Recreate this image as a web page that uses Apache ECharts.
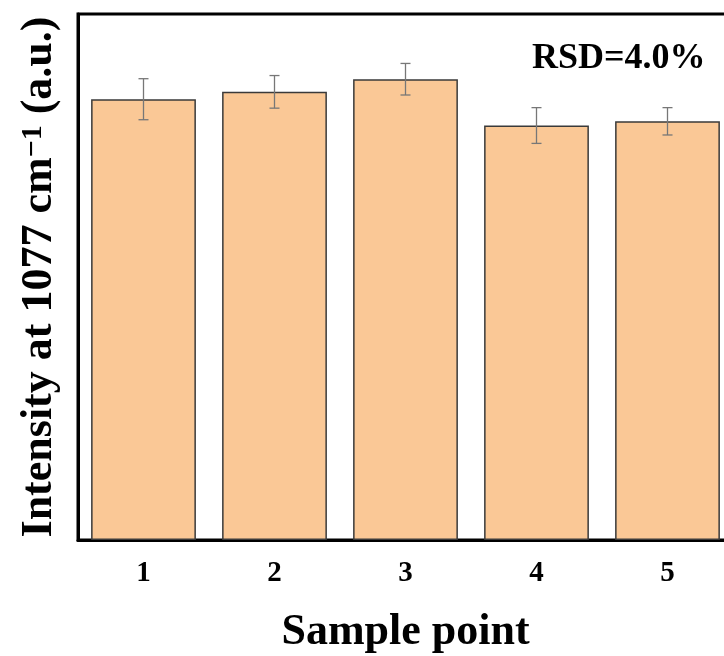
<!DOCTYPE html>
<html>
<head>
<meta charset="utf-8">
<script src="https://cdn.jsdelivr.net/npm/echarts@6/dist/echarts.min.js"></script>
<style>
  html, body { margin: 0; padding: 0; background: #fff; }
  #main { width: 724px; height: 656px; }
</style>
</head>
<body>
<div id="main"></div>
<script>
// sample points
var categories = ['1', '2', '3', '4', '5'];
var intensity = [83.8, 85.2, 87.6, 78.8, 79.6];
// error half widths (a.u.)
var errors = [3.9, 3.1, 3.0, 3.4, 2.6];

var serif = '"Liberation Serif", "Times New Roman", serif';

// error bar data: [index, low, high]
var errData = [];
for (var i = 0; i < intensity.length; i++) {
	errData.push([i, intensity[i] - errors[i], intensity[i] + errors[i]]);
}

var chart = echarts.init(document.getElementById('main'));

var option = {
	animation: false,
	backgroundColor: '#fff',
	grid: {
		left: 78,
		top: 14,
		right: -9,
		bottom: 116,
		outerBoundsMode: 'none',
		show: true,
		borderColor: '#000',
		borderWidth: 3
	},
	xAxis: [{
		type: 'category',
		data: categories,
		name: 'Sample point',
		nameLocation: 'middle',
		nameGap: 71,
		nameTextStyle: {
			fontFamily: serif,
			fontWeight: 'bold',
			fontSize: 44,
			color: '#000'
		},
		axisLine: { lineStyle: { color: '#000', width: 3 } },
		axisTick: {
			alignWithLabel: true,
			length: 9,
			lineStyle: { color: '#000', width: 3 }
		},
		axisLabel: {
			margin: 19,
			fontFamily: serif,
			fontWeight: 'bold',
			fontSize: 29,
			color: '#000'
		}
	}, {
		// minor ticks between categories
		type: 'category',
		data: categories,
		position: 'bottom',
		axisLine: { show: false },
		axisTick: {
			length: 4,
			lineStyle: { color: '#000', width: 3 }
		},
		axisLabel: { show: false }
	}],
	yAxis: {
		type: 'value',
		min: 0,
		max: 100,
		name: 'Intensity at 1077 cm{sup|\u22121} (a.u.)',
		nameLocation: 'middle',
		nameGap: 16,
		nameTextStyle: {
			fontFamily: serif,
			fontWeight: 'bold',
			fontSize: 44,
			color: '#000',
			rich: {
				sup: {
					fontFamily: serif,
					fontWeight: 'bold',
					fontSize: 30,
					color: '#000',
					verticalAlign: 'top'
				}
			}
		},
		axisLine: { show: true, lineStyle: { color: '#000', width: 3 } },
		axisTick: { show: false },
		axisLabel: { show: false },
		splitLine: { show: false }
	},
	series: [{
		type: 'bar',
		data: intensity,
		barCategoryGap: '20%',
		itemStyle: {
			color: '#FAC896',
			borderColor: '#3a3a3a',
			borderWidth: 1.5
		}
	}, {
		type: 'custom',
		data: errData,
		z: 10,
		renderItem: function(params, api) {
			var x = api.value(0);
			var lo = api.coord([x, api.value(1)]);
			var hi = api.coord([x, api.value(2)]);
			var half = 5;
			var style = { stroke: '#777', lineWidth: 1.3 };
			return {
				type: 'group',
				children: [
					{ type: 'line', shape: { x1: hi[0], y1: hi[1], x2: lo[0], y2: lo[1] }, style: style },
					{ type: 'line', shape: { x1: hi[0] - half, y1: hi[1], x2: hi[0] + half, y2: hi[1] }, style: style },
					{ type: 'line', shape: { x1: lo[0] - half, y1: lo[1], x2: lo[0] + half, y2: lo[1] }, style: style }
				]
			};
		}
	}],
	graphic: [{
		type: 'text',
		left: 532,
		top: 41,
		style: {
			text: 'RSD=4.0%',
			font: 'bold 36px "Liberation Serif", serif',
			fill: '#000'
		}
	}]
};

chart.setOption(option);
</script>
</body>
</html>
